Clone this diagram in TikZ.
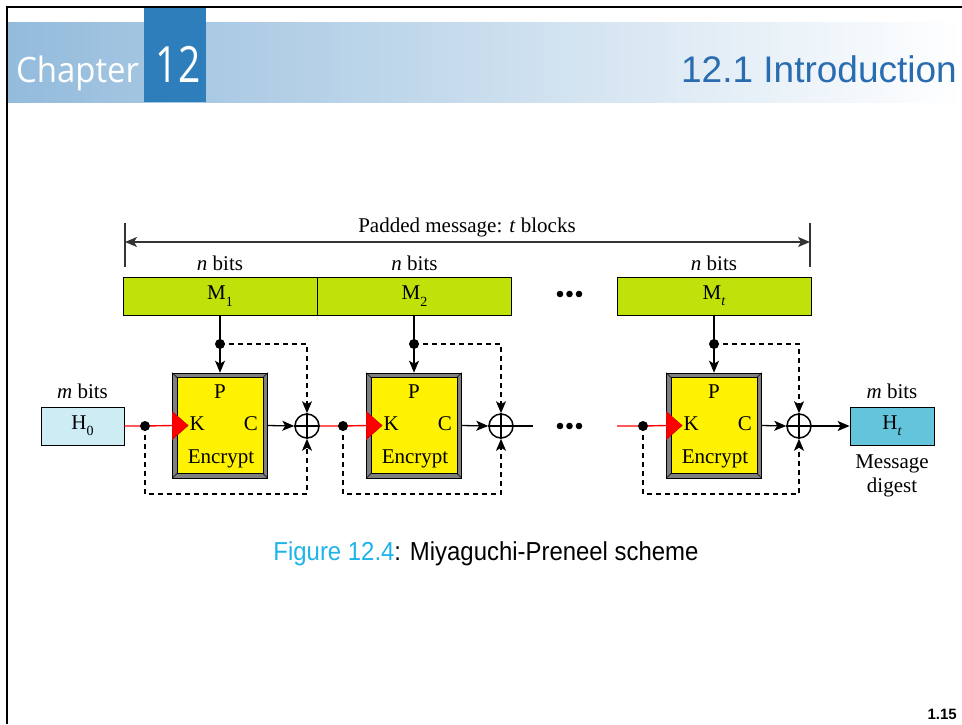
\documentclass[tikz,border=0pt]{standalone}
\usepackage{fontspec}
\setmainfont{Liberation Serif}
\newfontfamily\arialf{Liberation Sans}
\newfontfamily\segoef{Open Sans}
\usetikzlibrary{arrows.meta}
\definecolor{hdrL}{HTML}{93BBDC}
\definecolor{chapblue}{HTML}{2E7EBC}
\definecolor{titleblue}{HTML}{2A6CB0}
\definecolor{capblue}{HTML}{1EB4EA}
\definecolor{limef}{HTML}{C0E10A}
\definecolor{hzero}{HTML}{CDECF3}
\definecolor{htf}{HTML}{63C4DC}
\definecolor{bevel}{HTML}{7F7F7F}
\newcommand\sbs[1]{\raisebox{-0.3em}{\fontsize{14}{14}\selectfont #1}}
\newcommand\dg{\fontsize{21}{24}\selectfont}
\tikzset{
  mbox/.style={draw, line width=0.8, fill=limef, minimum width=194, minimum height=38, inner sep=0, font=\dg},
  hbox/.style={draw, line width=0.8, minimum width=83, minimum height=38, inner sep=0, font=\dg},
  encouter/.style={draw=black, line width=0.6, fill=bevel, minimum width=95, minimum height=105, inner sep=0},
  xorc/.style={circle, draw, line width=1.5, fill=white, minimum size=24, inner sep=0},
  lbl/.style={font=\dg, inner sep=0},
  tipa/.tip={Stealth[length=12pt,width=10pt,inset=3pt]},
  arr/.style={line width=1.3, -tipa},
  dashln/.style={line width=1.4, dash pattern=on 5 off 4},
}
\begin{document}
\begin{tikzpicture}[x=1pt,y=-1pt]
\useasboundingbox (0,0) rectangle (962,724);
\fill[white] (0,0) rectangle (962,724);
% header
\shade[left color=hdrL, right color=white] (8,22) rectangle (962,102);
\fill[chapblue] (144,8) rectangle (206,102);
\node[anchor=base west, inner sep=0, text=white] (chap) at (16,82) {\scalebox{0.94}[1]{\segoef\fontsize{35}{40}\selectfont Chapter}};
\node[anchor=base, inner sep=0, text=white] (chnum) at (178,82) {\scalebox{0.78}[1]{\segoef\fontsize{50}{56}\selectfont 12}};
\node[anchor=base east, inner sep=0, text=titleblue] (title) at (957,82) {\arialf\fontsize{37}{42}\selectfont 12.1 Introduction};
\draw[line width=2.6] (7,724) -- (7,7) -- (962,7);

% padded message arrow
\coordinate (pl) at (125,242);
\coordinate (pr) at (810,242);
\draw[line width=1.2, black!80] (125,223) -- (125,267);
\draw[line width=1.2, black!80] (810,223) -- (810,267);
\draw[line width=1.3, black!80, tipa-tipa] (pl) -- (pr);
\node[lbl, anchor=base] (padded) at (467,232) {Padded message: \textit{t} blocks};

% message blocks
\node[mbox] (m1) at (220,296) {M\sbs{1}};
\node[mbox] (m2) at (414.5,296) {M\sbs{2}};
\node[mbox] (m3) at (714,296) {M\sbs{\textit{t}}};
\node[lbl, anchor=base] (nb1) at (220,270) {\textit{n} bits};
\node[lbl, anchor=base] (nb2) at (414.5,270) {\textit{n} bits};
\node[lbl, anchor=base] (nb3) at (714,270) {\textit{n} bits};
\foreach \xx in {560,569.5,579} {\fill (\xx,294) circle (3.3); \fill (\xx,426) circle (3.3);}

% H0 and Ht
\node[hbox, fill=hzero] (h0) at (82.5,426) {H\sbs{0}};
\node[lbl, anchor=base] (mb0) at (82.5,398) {\textit{m} bits};
\node[hbox, fill=htf, minimum width=84] (ht) at (892,426) {H\sbs{\textit{t}}};
\node[lbl, anchor=base] (mbt) at (892,398) {\textit{m} bits};
\node[lbl, anchor=base] (md1) at (892,468) {Message};
\node[lbl, anchor=base] (md2) at (892,492) {digest};

% stages
\foreach \i/\bx/\xx/\dx in {1/220/307/145, 2/414/501/343, 3/714/799/643} {
  \node[encouter] (enc\i) at (\bx,425.5) {};
  \fill[yellow] ([shift={(5,5)}]enc\i.north west) rectangle ([shift={(-5,-5)}]enc\i.south east);
  \draw[line width=0.6] ([shift={(5,5)}]enc\i.north west) rectangle ([shift={(-5,-5)}]enc\i.south east);
  \draw[line width=0.6] (enc\i.north west) -- ++(5,5) (enc\i.north east) -- ++(-5,5)
     (enc\i.south west) -- ++(5,-5) (enc\i.south east) -- ++(-5,-5);
  \fill[red, draw=red!70!black, line width=0.4] (enc\i.west) ++(0,-14) -- ++(16,14) -- ++(-16,14) -- cycle;
  \node[lbl, anchor=base] (p\i) at (\bx,398) {P};
  \node[lbl, anchor=base] (k\i) at ([xshift=25]enc\i.west |- 0,430) {K};
  \node[lbl, anchor=base] (c\i) at ([xshift=-17]enc\i.east |- 0,430) {C};
  \node[lbl, anchor=base] (e\i) at (\bx+1,463) {Encrypt};
  \node[xorc] (xor\i) at (\xx,426) {};
  \draw[line width=1.2] (xor\i.north) -- (xor\i.south) (xor\i.west) -- (xor\i.east);
  \coordinate (pd\i) at (\bx,344);
  \coordinate (kd\i) at (\dx,426);
  \coordinate (bot\i) at (\dx,494);
  \draw[line width=1.3] (pd\i |- m\i.south) -- (pd\i);
  \draw[arr] (pd\i) -- (enc\i.north);
  \draw[dashln, -tipa] (pd\i) -| (xor\i.north);
  \draw[dashln, -tipa] (kd\i) |- (bot\i) -| (xor\i.south);
  \draw[arr] (enc\i.east) -- (xor\i.west);
}
% key lines
\draw[red, line width=1.4] (h0.east) -- (kd1) -- (enc1.west);
\draw[red, line width=1.4] (xor1.east) -- (kd2) -- (enc2.west);
\coordinate (x2end) at (533,426);
\coordinate (k3start) at (617,426);
\draw[line width=1.4] (xor2.east) -- (x2end);
\draw[red, line width=1.4] (k3start) -- (kd3) -- (enc3.west);
\draw[arr] (xor3.east) -- (ht.west);
\foreach \i in {1,2,3} {\fill (pd\i) circle (5); \fill (kd\i) circle (5);}

% caption
\node[anchor=base, inner sep=0] (cap) at (486,560) {\scalebox{0.92}[1]{\arialf\fontsize{26}{30}\selectfont\textcolor{capblue}{Figure 12.4}: Miyaguchi-Preneel scheme}};
\node[anchor=base east, inner sep=0] (pg) at (957,719) {\arialf\bfseries\fontsize{15}{17}\selectfont 1.15};
\end{tikzpicture}
\end{document}
